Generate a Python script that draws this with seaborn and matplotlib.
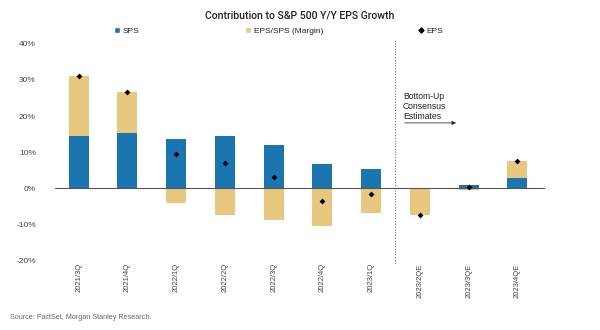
import matplotlib
matplotlib.use("Agg")
import matplotlib.pyplot as plt
import seaborn as sns
import numpy as np
import pandas as pd
from matplotlib.lines import Line2D
from matplotlib.patches import Patch

# Quarterly contributions to S&P 500 Y/Y EPS growth (%)
quarters = ["2021/3Q", "2021/4Q", "2022/1Q", "2022/2Q", "2022/3Q",
            "2022/4Q", "2023/1Q", "2023/2QE", "2023/3QE", "2023/4QE"]
sps = [14.6, 15.3, 13.7, 14.5, 11.9, 6.8, 5.3, 0.0, 1.0, 2.8]
margin = [16.6, 11.5, -4.2, -7.5, -8.9, -10.4, -7.0, -7.5, -0.6, 4.8]
eps = [31.2, 26.8, 9.6, 7.0, 3.0, -3.5, -1.7, -7.5, 0.4, 7.6]
y_ticks = [-20, -10, 0, 10, 20, 30, 40]

BLUE = "#1b75b1"
TAN = "#e8c77f"

sns.set_theme(style="white")
plt.rcParams["font.family"] = ["Liberation Sans", "DejaVu Sans"]

df = pd.DataFrame({"quarter": quarters, "sps": sps, "margin": margin, "eps": eps})
# Margin segment sits on top of sales when positive, below zero when negative
df["margin_top"] = np.where(df["margin"] > 0, df["sps"] + df["margin"], df["margin"])

fig = plt.figure(figsize=(6, 3.3), dpi=100)
ax = fig.add_axes([0.092, 0.211, 0.816, 0.656])

sns.barplot(data=df, x="quarter", y="margin_top", color=TAN, width=0.41,
            saturation=1, ax=ax, linewidth=0)
sns.barplot(data=df, x="quarter", y="sps", color=BLUE, width=0.41,
            saturation=1, ax=ax, linewidth=0)
sns.stripplot(data=df, x="quarter", y="eps", color="black", marker="D",
              size=3, jitter=False, ax=ax, zorder=5)

ax.axhline(0, color="#555555", lw=0.8, zorder=3)
ax.set_xlim(-0.48, 9.56)
ax.set_ylim(-20, 40)
ax.set_yticks(y_ticks)
ax.set_yticklabels([f"{v}%" for v in y_ticks])
ax.tick_params(axis="y", labelsize=6, colors="#444444", length=0, pad=14)
ax.tick_params(axis="x", labelsize=5.5, colors="#444444", length=0,
               rotation=90, pad=2)
ax.set_xlabel("")
ax.set_ylabel("")
for s in ax.spines.values():
    s.set_visible(False)

# Split between reported quarters and consensus estimates
ax.plot([6.48, 6.48], [41, -21], ls=(0, (1, 1.5)), color="#777777", lw=0.8,
        clip_on=False)
ax.text(6.65, 26.8, "Bottom-Up\nConsensus\nEstimates", fontsize=6.2,
        va="top", ha="left", color="#222222", linespacing=1.15)
ax.annotate("", xy=(7.8, 18.1), xytext=(6.63, 18.1),
            arrowprops=dict(arrowstyle="-|>", color="#333333", lw=0.6,
                            mutation_scale=6))

fig.text(0.5, 0.952, "Contribution to S&P 500 Y/Y EPS Growth", ha="center",
         va="center", fontsize=7.6, color="#222222", fontweight="medium",
         family=["Roboto", "DejaVu Sans"])

legend_items = [
    (Patch(facecolor=BLUE), "SPS", 0.183),
    (Patch(facecolor=TAN), "EPS/SPS (Margin)", 0.402),
    (Line2D([], [], marker="D", color="black", ls="", markersize=2.6), "EPS", 0.69),
]
for handle, label, xpos in legend_items:
    fig.legend([handle], [label], loc="center left", bbox_to_anchor=(xpos, 0.906),
               frameon=False, fontsize=6, handlelength=0.7, handleheight=0.7,
               handletextpad=0.3, borderpad=0, labelcolor="#222222")

fig.text(0.017, 0.037, "Source: FactSet, Morgan Stanley Research.",
         fontsize=5.2, color="#666666", ha="left", va="center")

fig.savefig("out.png", dpi=100, facecolor="white")
